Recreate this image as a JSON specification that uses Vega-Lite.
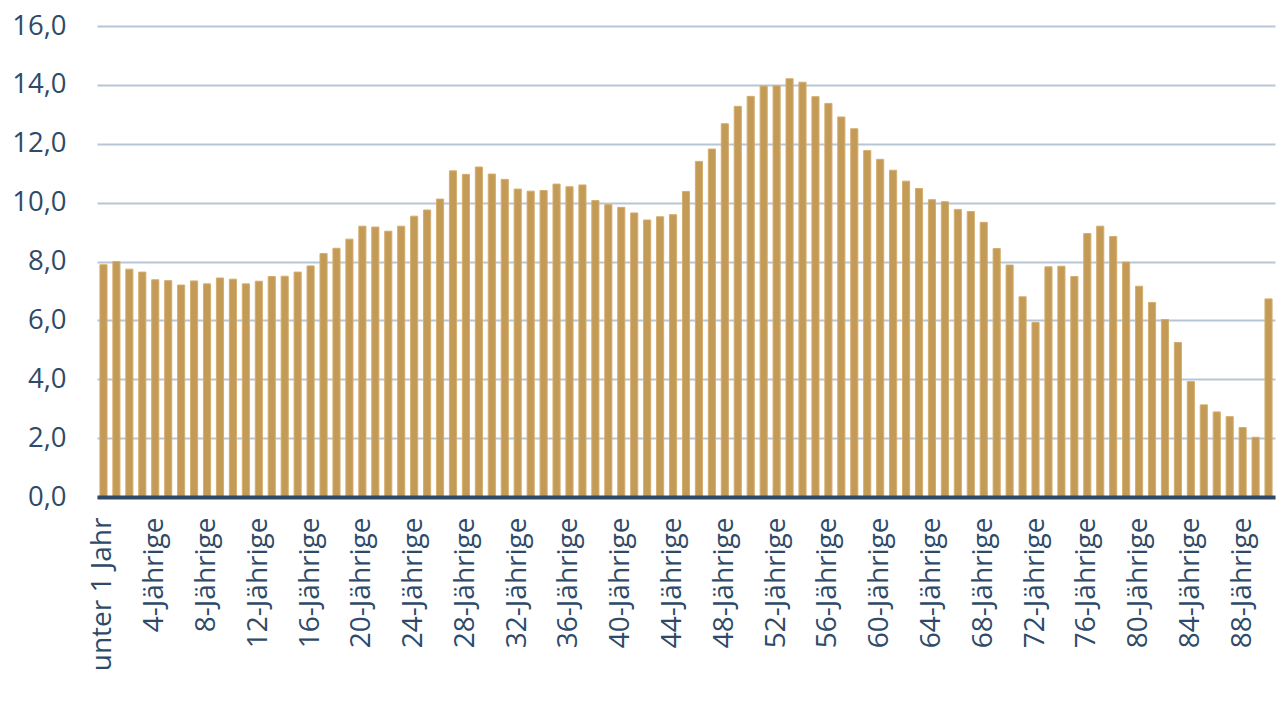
{
  "$schema": "https://vega.github.io/schema/vega-lite/v6.json",
  "autosize": {"type": "none"},
  "width": 1178,
  "height": 471,
  "padding": {"left": 97, "top": 26, "right": 7, "bottom": 206},
  "background": "white",
  "data": {
    "values": [
      {"i": 0, "label": "unter 1 Jahr", "v": 7.89},
      {"i": 1, "label": "1-Jährige", "v": 8.0},
      {"i": 2, "label": "2-Jährige", "v": 7.74},
      {"i": 3, "label": "3-Jährige", "v": 7.64},
      {"i": 4, "label": "4-Jährige", "v": 7.38},
      {"i": 5, "label": "5-Jährige", "v": 7.35},
      {"i": 6, "label": "6-Jährige", "v": 7.2},
      {"i": 7, "label": "7-Jährige", "v": 7.34},
      {"i": 8, "label": "8-Jährige", "v": 7.24},
      {"i": 9, "label": "9-Jährige", "v": 7.44},
      {"i": 10, "label": "10-Jährige", "v": 7.4},
      {"i": 11, "label": "11-Jährige", "v": 7.24},
      {"i": 12, "label": "12-Jährige", "v": 7.33},
      {"i": 13, "label": "13-Jährige", "v": 7.49},
      {"i": 14, "label": "14-Jährige", "v": 7.5},
      {"i": 15, "label": "15-Jährige", "v": 7.64},
      {"i": 16, "label": "16-Jährige", "v": 7.85},
      {"i": 17, "label": "17-Jährige", "v": 8.27},
      {"i": 18, "label": "18-Jährige", "v": 8.45},
      {"i": 19, "label": "19-Jährige", "v": 8.76},
      {"i": 20, "label": "20-Jährige", "v": 9.2},
      {"i": 21, "label": "21-Jährige", "v": 9.17},
      {"i": 22, "label": "22-Jährige", "v": 9.03},
      {"i": 23, "label": "23-Jährige", "v": 9.2},
      {"i": 24, "label": "24-Jährige", "v": 9.54},
      {"i": 25, "label": "25-Jährige", "v": 9.75},
      {"i": 26, "label": "26-Jährige", "v": 10.12},
      {"i": 27, "label": "27-Jährige", "v": 11.08},
      {"i": 28, "label": "28-Jährige", "v": 10.96},
      {"i": 29, "label": "29-Jährige", "v": 11.21},
      {"i": 30, "label": "30-Jährige", "v": 10.97},
      {"i": 31, "label": "31-Jährige", "v": 10.79},
      {"i": 32, "label": "32-Jährige", "v": 10.46},
      {"i": 33, "label": "33-Jährige", "v": 10.39},
      {"i": 34, "label": "34-Jährige", "v": 10.41},
      {"i": 35, "label": "35-Jährige", "v": 10.63},
      {"i": 36, "label": "36-Jährige", "v": 10.54},
      {"i": 37, "label": "37-Jährige", "v": 10.6},
      {"i": 38, "label": "38-Jährige", "v": 10.07},
      {"i": 39, "label": "39-Jährige", "v": 9.93},
      {"i": 40, "label": "40-Jährige", "v": 9.84},
      {"i": 41, "label": "41-Jährige", "v": 9.65},
      {"i": 42, "label": "42-Jährige", "v": 9.41},
      {"i": 43, "label": "43-Jährige", "v": 9.52},
      {"i": 44, "label": "44-Jährige", "v": 9.59},
      {"i": 45, "label": "45-Jährige", "v": 10.38},
      {"i": 46, "label": "46-Jährige", "v": 11.4},
      {"i": 47, "label": "47-Jährige", "v": 11.82},
      {"i": 48, "label": "48-Jährige", "v": 12.68},
      {"i": 49, "label": "49-Jährige", "v": 13.27},
      {"i": 50, "label": "50-Jährige", "v": 13.61},
      {"i": 51, "label": "51-Jährige", "v": 13.96},
      {"i": 52, "label": "52-Jährige", "v": 13.97},
      {"i": 53, "label": "53-Jährige", "v": 14.21},
      {"i": 54, "label": "54-Jährige", "v": 14.09},
      {"i": 55, "label": "55-Jährige", "v": 13.6},
      {"i": 56, "label": "56-Jährige", "v": 13.37},
      {"i": 57, "label": "57-Jährige", "v": 12.91},
      {"i": 58, "label": "58-Jährige", "v": 12.51},
      {"i": 59, "label": "59-Jährige", "v": 11.77},
      {"i": 60, "label": "60-Jährige", "v": 11.47},
      {"i": 61, "label": "61-Jährige", "v": 11.1},
      {"i": 62, "label": "62-Jährige", "v": 10.73},
      {"i": 63, "label": "63-Jährige", "v": 10.48},
      {"i": 64, "label": "64-Jährige", "v": 10.1},
      {"i": 65, "label": "65-Jährige", "v": 10.03},
      {"i": 66, "label": "66-Jährige", "v": 9.77},
      {"i": 67, "label": "67-Jährige", "v": 9.7},
      {"i": 68, "label": "68-Jährige", "v": 9.33},
      {"i": 69, "label": "69-Jährige", "v": 8.44},
      {"i": 70, "label": "70-Jährige", "v": 7.88},
      {"i": 71, "label": "71-Jährige", "v": 6.8},
      {"i": 72, "label": "72-Jährige", "v": 5.93},
      {"i": 73, "label": "73-Jährige", "v": 7.82},
      {"i": 74, "label": "74-Jährige", "v": 7.84},
      {"i": 75, "label": "75-Jährige", "v": 7.49},
      {"i": 76, "label": "76-Jährige", "v": 8.95},
      {"i": 77, "label": "77-Jährige", "v": 9.2},
      {"i": 78, "label": "78-Jährige", "v": 8.85},
      {"i": 79, "label": "79-Jährige", "v": 7.98},
      {"i": 80, "label": "80-Jährige", "v": 7.16},
      {"i": 81, "label": "81-Jährige", "v": 6.61},
      {"i": 82, "label": "82-Jährige", "v": 6.03},
      {"i": 83, "label": "83-Jährige", "v": 5.25},
      {"i": 84, "label": "84-Jährige", "v": 3.92},
      {"i": 85, "label": "85-Jährige", "v": 3.13},
      {"i": 86, "label": "86-Jährige", "v": 2.89},
      {"i": 87, "label": "87-Jährige", "v": 2.73},
      {"i": 88, "label": "88-Jährige", "v": 2.36},
      {"i": 89, "label": "89-Jährige", "v": 2.03},
      {"i": 90, "label": "90 Jahre und älter", "v": 6.73}
    ]
  },
  "mark": {"type": "bar", "color": "#C49A57", "stroke": "#D3AE6F", "strokeWidth": 1},
  "encoding": {
    "x": {
      "field": "i",
      "type": "ordinal",
      "sort": "ascending",
      "scale": {"paddingInner": 0.45, "paddingOuter": 0.225},
      "axis": {
        "title": null,
        "labelExpr": "datum.value % 4 == 0 ? (datum.value == 0 ? 'unter 1 Jahr' : datum.value + '-Jährige') : ''",
        "labelAngle": -90,
        "labelFont": "Open Sans",
        "labelFontSize": 28,
        "labelColor": "#2E4A68",
        "labelPadding": 20,
        "labelOverlap": false,
        "ticks": false,
        "domainColor": "#2E4A68",
        "domainWidth": 4,
        "grid": false,
        "zindex": 1
      }
    },
    "y": {
      "field": "v",
      "type": "quantitative",
      "scale": {"domain": [0, 16], "nice": false},
      "axis": {
        "title": null,
        "values": [0, 2, 4, 6, 8, 10, 12, 14, 16],
        "labelExpr": "replace(format(datum.value, '.1f'), '.', ',')",
        "labelFont": "Open Sans",
        "labelFontSize": 27.5,
        "labelColor": "#2E4A68",
        "labelPadding": 31,
        "ticks": false,
        "domain": false,
        "grid": true,
        "gridColor": "#B7C6D6",
        "gridWidth": 2
      }
    }
  },
  "config": {"view": {"stroke": null}}
}
